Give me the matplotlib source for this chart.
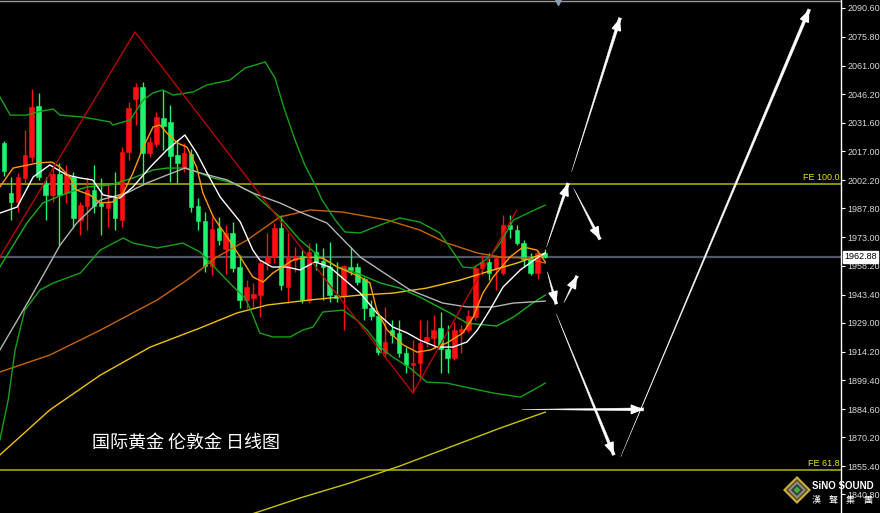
import matplotlib
matplotlib.use("Agg")
import matplotlib.pyplot as plt
from matplotlib.patches import Polygon
import numpy as np

# ---------------- data (prices) ----------------
opens = [2021.3, 1995.6, 1991.0, 2003.3, 2014.1, 2040.3, 2000.2, 1994.6, 2005.3, 1995.6,
         2003.8, 1981.7, 1988.9, 1997.1, 1990.5, 1987.9, 1993.0, 1981.7, 2016.6, 2043.9,
         2050.0, 2016.1, 2020.8, 2034.1, 2032.1, 2015.1, 2008.4, 2015.6, 1988.9, 1981.2,
         1958.1, 1977.6, 1966.8, 1975.1, 1957.6, 1940.7, 1941.7, 1943.2, 1959.6, 1962.7,
         1977.6, 1947.3, 1961.2, 1963.2, 1940.7, 1965.3, 1960.7, 1957.6, 1943.2, 1942.7,
         1957.6, 1957.6, 1951.4, 1936.5, 1932.4, 1913.4, 1925.2, 1923.7, 1913.4, 1907.3,
         1908.3, 1919.6, 1921.1, 1926.3, 1915.5, 1910.9, 1924.2, 1925.2, 1931.9, 1957.1,
         1960.2, 1957.1, 1954.5, 1979.2, 1976.6, 1969.9, 1962.2, 1954.5, 1964.8]
highs = [2022.3, 2003.8, 2005.9, 2027.9, 2049.0, 2047.0, 2003.8, 2010.0, 2011.0, 2010.0,
         2006.4, 1991.0, 2003.8, 2010.0, 2003.3, 1999.7, 2006.4, 2019.2, 2042.3, 2052.1,
         2052.6, 2024.4, 2037.2, 2048.5, 2040.8, 2022.8, 2021.3, 2018.2, 1993.0, 1985.8,
         1983.3, 1983.3, 1979.2, 1980.7, 1963.8, 1950.9, 1949.4, 1961.2, 1975.1, 1980.2,
         1984.3, 1975.1, 1967.9, 1966.3, 1969.9, 1969.9, 1967.4, 1970.4, 1960.2, 1958.6,
         1967.9, 1959.6, 1952.5, 1940.7, 1934.0, 1937.1, 1930.4, 1930.4, 1916.5, 1920.1,
         1930.4, 1930.4, 1932.9, 1934.5, 1927.8, 1929.4, 1927.8, 1935.5, 1958.6, 1963.8,
         1964.8, 1963.8, 1984.3, 1984.3, 1979.2, 1971.5, 1964.8, 1966.3, 1966.8]
lows = [2004.3, 1981.7, 1985.8, 2000.7, 2011.5, 2002.3, 1981.7, 1991.0, 1968.9, 1990.5,
        1977.6, 1974.0, 1976.6, 1985.3, 1974.0, 1978.1, 1976.6, 1978.1, 2012.5, 2030.5,
        1999.7, 2014.1, 2019.2, 2017.7, 2001.2, 2000.7, 2006.4, 1985.8, 1976.6, 1955.0,
        1953.5, 1968.9, 1954.0, 1955.0, 1936.5, 1936.5, 1937.1, 1931.9, 1956.1, 1959.6,
        1945.8, 1939.1, 1955.0, 1939.1, 1939.1, 1956.1, 1940.7, 1939.6, 1939.6, 1925.2,
        1953.5, 1948.4, 1930.4, 1930.4, 1912.4, 1911.4, 1918.6, 1911.4, 1903.2, 1892.9,
        1899.6, 1916.5, 1916.0, 1903.2, 1903.2, 1909.8, 1913.4, 1924.2, 1930.4, 1953.5,
        1950.9, 1945.8, 1953.5, 1972.5, 1968.9, 1957.6, 1953.5, 1951.4, 1962.2]
closes = [2006.9, 1991.0, 2003.8, 2015.1, 2039.8, 2003.8, 1994.6, 2005.3, 1994.6, 2005.3,
          1982.8, 1989.4, 1997.1, 1988.9, 1988.9, 1990.5, 1982.8, 2016.6, 2039.2, 2050.0,
          2016.1, 2021.8, 2034.6, 2030.0, 2014.6, 2011.0, 2016.1, 1988.4, 1981.2, 1958.1,
          1977.1, 1971.5, 1975.1, 1957.1, 1940.7, 1947.3, 1943.7, 1959.6, 1962.7, 1977.6,
          1948.4, 1962.7, 1963.2, 1940.7, 1965.3, 1960.2, 1957.6, 1943.2, 1941.7, 1958.1,
          1956.1, 1949.9, 1936.5, 1932.4, 1913.9, 1919.1, 1922.7, 1913.4, 1907.3, 1908.3,
          1918.6, 1921.7, 1925.2, 1915.5, 1910.9, 1925.2, 1925.8, 1932.4, 1957.1, 1960.2,
          1954.5, 1962.2, 1979.2, 1977.1, 1969.9, 1961.7, 1954.5, 1964.8, 1962.88]

# indicator lines (x in bar index units, y in price)
bb_up_x = [-0.6, 0.9, 3.3, 4.8, 7.1, 8.1, 11.4, 15.3, 15.7, 18.2, 20.1, 21.5, 22.9, 24.4, 27.3, 29.3,
           32.6, 34.8, 37.7, 39.1, 40.5, 42.0, 43.4, 44.9, 45.9, 47.8, 49.2, 51.4, 54.3, 57.1, 60.0,
           62.9, 65.1, 66.2, 67.7, 70.1, 71.6, 73.5, 75.9, 78.1]
bb_up_y = [2044.9, 2035.6, 2035.6, 2037.2, 2038.7, 2035.6, 2034.6, 2032.1, 2030.5, 2033.1, 2043.4,
           2047.0, 2048.5, 2045.9, 2047.5, 2051.1, 2053.6, 2059.8, 2062.9, 2054.6, 2038.2, 2022.8,
           2010.0, 1999.7, 1992.0, 1981.7, 1975.6, 1975.1, 1979.2, 1982.8, 1980.7, 1975.1, 1963.8,
           1957.6, 1957.1, 1962.7, 1969.9, 1981.7, 1985.8, 1989.4]
bb_mid_x = [-0.6, 3.3, 5.6, 9.1, 12.0, 15.3, 18.6, 21.5, 23.5, 26.4, 29.7, 33.0, 35.9, 39.8, 42.7,
            45.6, 48.1, 50.9, 54.3, 57.1, 60.0, 64.4, 66.8, 71.1, 73.5, 76.3, 78.1]
bb_mid_y = [1957.6, 1980.2, 1990.5, 1995.6, 1998.7, 1999.7, 2003.3, 2007.4, 2008.4, 2008.4, 2003.8,
            2000.7, 1995.6, 1983.3, 1971.5, 1962.7, 1957.6, 1954.5, 1949.4, 1946.8, 1942.2, 1933.9,
            1928.8, 1927.3, 1931.9, 1939.1, 1943.2]
bb_lo_x = [-0.6, 0.6, 1.6, 3.0, 5.2, 7.1, 11.0, 13.9, 17.2, 18.6, 22.1, 25.8, 28.3, 30.2, 33.0, 34.8,
           35.9, 36.9, 38.8, 41.3, 43.1, 44.6, 46.0, 48.9, 50.9, 52.4, 54.3, 56.1, 58.6, 61.0, 63.9,
           70.6, 74.5, 76.9, 78.1]
bb_lo_y = [1868.8, 1889.3, 1915.0, 1935.5, 1945.8, 1949.4, 1954.5, 1966.3, 1972.5, 1969.9, 1967.4,
           1969.9, 1965.3, 1958.1, 1947.8, 1941.7, 1932.9, 1923.7, 1921.7, 1921.7, 1925.2, 1926.8,
           1934.5, 1935.5, 1930.4, 1925.2, 1916.5, 1911.4, 1905.7, 1898.5, 1898.0, 1892.9, 1890.8,
           1895.5, 1898.0]
ma_fast_x = [-0.6, 1.9, 4.2, 6.6, 9.1, 11.0, 12.8, 14.3, 16.7, 18.6, 21.1, 23.5, 26.1, 27.8, 29.3,
             31.2, 34.1, 35.9, 36.9, 38.7, 40.8, 42.7, 44.9, 47.0, 51.4, 53.8, 56.1, 58.2, 60.0, 62.5,
             64.8, 66.8, 68.3, 70.1, 72.0, 74.5, 76.9, 78.1]
ma_fast_y = [1985.3, 1988.4, 2003.8, 2010.0, 2004.8, 2003.3, 2002.3, 1994.6, 1993.0, 1998.7, 2008.9,
             2017.7, 2025.4, 2016.1, 2005.9, 1993.5, 1980.7, 1966.3, 1961.2, 1957.6, 1957.6, 1956.1,
             1960.2, 1957.6, 1944.2, 1934.0, 1926.8, 1923.7, 1920.1, 1916.5, 1916.5, 1919.1, 1925.2,
             1935.5, 1947.3, 1956.1, 1962.2, 1964.8]
ma_slow_x = [-0.6, 3.8, 8.1, 10.5, 13.9, 17.7, 20.6, 23.5, 26.1, 28.3, 32.2, 35.9, 39.8, 42.7, 46.6,
             51.4, 55.3, 58.6, 63.3, 66.8, 70.6, 73.5, 78.1]
ma_slow_y = [1915.0, 1941.7, 1968.9, 1980.2, 1992.0, 1995.6, 2000.7, 2004.8, 2008.4, 2005.9, 2002.3,
             1995.6, 1990.5, 1985.8, 1980.2, 1962.7, 1953.5, 1945.8, 1939.1, 1937.1, 1937.1, 1939.1,
             1940.1]
ma5_x = [-0.6, 1.3, 4.8, 6.9, 8.1, 9.5, 10.5, 12.4, 13.9, 15.7, 17.2, 18.6, 20.1, 21.5, 22.5, 23.5,
         25.0, 26.4, 27.8, 28.7, 30.2, 32.2, 34.1, 35.9, 37.4, 38.8, 41.7, 43.7, 46.0, 48.1, 51.4,
         52.8, 53.8, 55.3, 57.6, 59.6, 61.5, 63.9, 66.2, 67.7, 69.1, 70.6, 73.0, 74.9, 76.9, 78.1]
ma5_y = [1998.7, 2008.4, 2011.0, 2011.5, 2008.9, 2003.8, 1997.1, 1994.6, 1990.5, 1991.0, 1995.6,
         2005.9, 2019.2, 2029.5, 2030.5, 2026.4, 2021.3, 2019.2, 2008.9, 1995.6, 1983.3, 1973.0,
         1962.7, 1952.5, 1949.9, 1954.5, 1961.2, 1962.7, 1962.2, 1957.6, 1952.5, 1949.4, 1935.5,
         1925.2, 1917.6, 1913.9, 1915.0, 1918.6, 1923.7, 1931.9, 1944.2, 1952.5, 1962.7, 1967.9,
         1966.3, 1960.2]
ma_mid_x = [-0.6, 6.6, 13.9, 22.1, 26.4, 30.7, 35.1, 39.8, 44.2, 48.9, 55.3, 60.0, 63.9, 68.3, 71.6,
            75.5, 78.1]
ma_mid_y = [1903.7, 1912.4, 1925.2, 1940.7, 1950.9, 1962.7, 1971.5, 1983.3, 1986.9, 1985.8, 1981.7,
            1976.6, 1969.9, 1964.8, 1962.7, 1962.2, 1959.6]
ma_long_x = [-0.6, 6.6, 13.9, 21.1, 28.3, 33.6, 38.0, 44.2, 51.4, 56.1, 61.0, 65.8, 70.6, 74.0, 78.1]
ma_long_y = [1861.1, 1884.2, 1902.1, 1916.5, 1926.3, 1934.0, 1938.1, 1940.7, 1943.2, 1944.2, 1946.8,
             1950.9, 1956.1, 1959.6, 1964.8]
ma_xl_x = [28.3, 36.2, 42.7, 49.9, 57.1, 64.4, 71.6, 78.1]
ma_xl_y = [1822.5, 1831.3, 1839.0, 1846.7, 1855.4, 1865.2, 1874.9, 1883.1]

zigzag_x = [-0.6, 18.9, 59.0, 74.0]
zigzag_y = [1962.7, 2078.3, 1892.9, 1986.9]

fe_levels = [2000.2, 1853.4]
fe_labels = ["FE 100.0", "FE 61.8"]
last_price = 1962.88

tick_values = [2090.60, 2075.80, 2061.00, 2046.20, 2031.60, 2017.00, 2002.20, 1987.80, 1973.00,
               1958.20, 1943.40, 1929.00, 1914.20, 1899.40, 1884.60, 1870.20, 1855.40, 1840.80]

# projected-path arrows: (x0, y0, x1, y1) in bar index / price
arrows = [(81.9, 2006.5, 88.9, 2085.5),
          (78.3, 1968.0, 81.4, 2000.6),
          (82.2, 1998.0, 86.0, 1971.8),
          (78.4, 1955.2, 79.7, 1938.6),
          (80.8, 1939.3, 82.7, 1953.0),
          (79.7, 1933.5, 88.0, 1861.1),
          (74.7, 1884.5, 92.3, 1884.5),
          (89.0, 1860.2, 116.2, 2089.9)]

title_text = "国际黄金 伦敦金 日线图"

# ---------------- drawing ----------------
W, H = 880, 513
fig = plt.figure(figsize=(W / 100, H / 100), dpi=100, facecolor="black")
ax = fig.add_axes([0, 0, 841 / W, 1])
ax.set_facecolor("black")
ax.set_xlim(-0.58, 120.78)
ax.set_ylim(1831.3, 2094.7)

UP = "#ff1010"
DN = "#1ef46e"
idx = np.arange(len(opens))
for i in idx:
    o, h, l, c = opens[i], highs[i], lows[i], closes[i]
    col = UP if c >= o else DN
    ax.vlines(i, l, h, color=col, lw=1.0, zorder=2)
    ax.bar(i, max(abs(c - o), 0.3), bottom=min(o, c), width=0.66, color=col,
           edgecolor=col, lw=0.4, zorder=2)

ax.plot(ma_xl_x, ma_xl_y, color="#c8c400", lw=1.0, zorder=3)
ax.plot(ma_long_x, ma_long_y, color="#f0c000", lw=1.0, zorder=3)
ax.plot(ma_mid_x, ma_mid_y, color="#c86400", lw=1.0, zorder=3)
ax.plot(bb_up_x, bb_up_y, color="#15a015", lw=1.0, zorder=3)
ax.plot(bb_mid_x, bb_mid_y, color="#15b015", lw=1.0, zorder=3)
ax.plot(bb_lo_x, bb_lo_y, color="#15a015", lw=1.0, zorder=3)
ax.plot(ma_slow_x, ma_slow_y, color="#b4b4b4", lw=1.0, zorder=3)
ax.plot(ma_fast_x, ma_fast_y, color="#ffffff", lw=1.0, zorder=3)
ax.plot(ma5_x, ma5_y, color="#ff9a00", lw=1.0, zorder=3)
ax.plot(zigzag_x, zigzag_y, color="#c80000", lw=0.9, zorder=3)

for lv, lab in zip(fe_levels, fe_labels):
    ax.axhline(lv, color="#a8a800", lw=1.2, zorder=1)
    ax.text(120.6, lv + 0.8, lab, color="#e6e600", fontsize=6.5, ha="right", va="bottom",
            family="Liberation Sans", zorder=5)

ax.axhline(last_price, color="#4e5964", lw=1.6, zorder=1)
ax.axhline(2094.2, color="#9a9a9a", lw=1.0, zorder=1)
ax.plot([79.9], [2093.6], marker="v", color="#8c9cb0", markersize=5, zorder=5)

# tapered arrows: thin tail widening towards a solid head
for (x0, y0, x1, y1) in arrows:
    ax.annotate("", xy=(x0, y0), xytext=(x1, y1),
                arrowprops=dict(arrowstyle="wedge,tail_width=0.22,shrink_factor=0.5",
                                fc="white", ec="white", lw=0.3, shrinkA=0, shrinkB=0), zorder=6)
    ax.annotate("", xy=(x1, y1), xytext=(x0 + 0.9 * (x1 - x0), y0 + 0.9 * (y1 - y0)),
                arrowprops=dict(arrowstyle="-|>,head_length=0.75,head_width=0.3",
                                color="white", lw=1.0, shrinkA=0, shrinkB=0), zorder=6)

# right price axis
for s in ["top", "left", "bottom"]:
    ax.spines[s].set_visible(False)
ax.spines["right"].set_color("white")
ax.spines["right"].set_linewidth(1.0)
ax.set_xticks([])
ax.yaxis.tick_right()
ax.set_yticks(tick_values)
ax.set_yticklabels([f"{v:.2f}" for v in tick_values], family="Liberation Sans", fontsize=6.5,
                   color="#d8d8d8")
ax.tick_params(axis="y", colors="white", labelcolor="#d8d8d8", length=3, width=0.8, pad=1.5)

ax.text(1.0035, last_price, f"{last_price:.2f}", transform=ax.get_yaxis_transform(),
        ha="left", va="center", fontsize=6.5, family="Liberation Sans", color="black",
        bbox=dict(boxstyle="square,pad=0.15", fc="white", ec="white"), zorder=7, clip_on=False)

ax.text(92 / 841, 1 - 443 / H, title_text, transform=ax.transAxes, ha="left", va="center",
        fontsize=13, color="white", family=["Noto Sans CJK SC", "DejaVu Sans"])

# logo
def P(x, y):
    return (x / W, 1 - y / H)

cx, cy = 797, 490
for half, col in [(14, "#c9b040"), (11, "#5a4a10"), (9, "#8a8a8a"), (6, "#3a3a3a"), (3.5, "#3cb040")]:
    fig.patches.append(Polygon([P(cx - half, cy), P(cx, cy - half), P(cx + half, cy), P(cx, cy + half)],
                               closed=True, transform=fig.transFigure, fc=col, ec="none", zorder=8))
fig.text(812 / W, 1 - 486 / H, "SiNO SOUND", color="white", fontsize=7, fontweight="bold",
         family="Liberation Sans", ha="left", va="center", zorder=9)
for k, ch in enumerate("漢聲集團"):
    fig.text((812 + 17 * k) / W, 1 - 500 / H, ch, color="white", fontsize=6.5,
             family=["Noto Sans CJK TC", "DejaVu Sans"], ha="left", va="center", zorder=9)

fig.savefig("out.png", dpi=100, facecolor="black")
